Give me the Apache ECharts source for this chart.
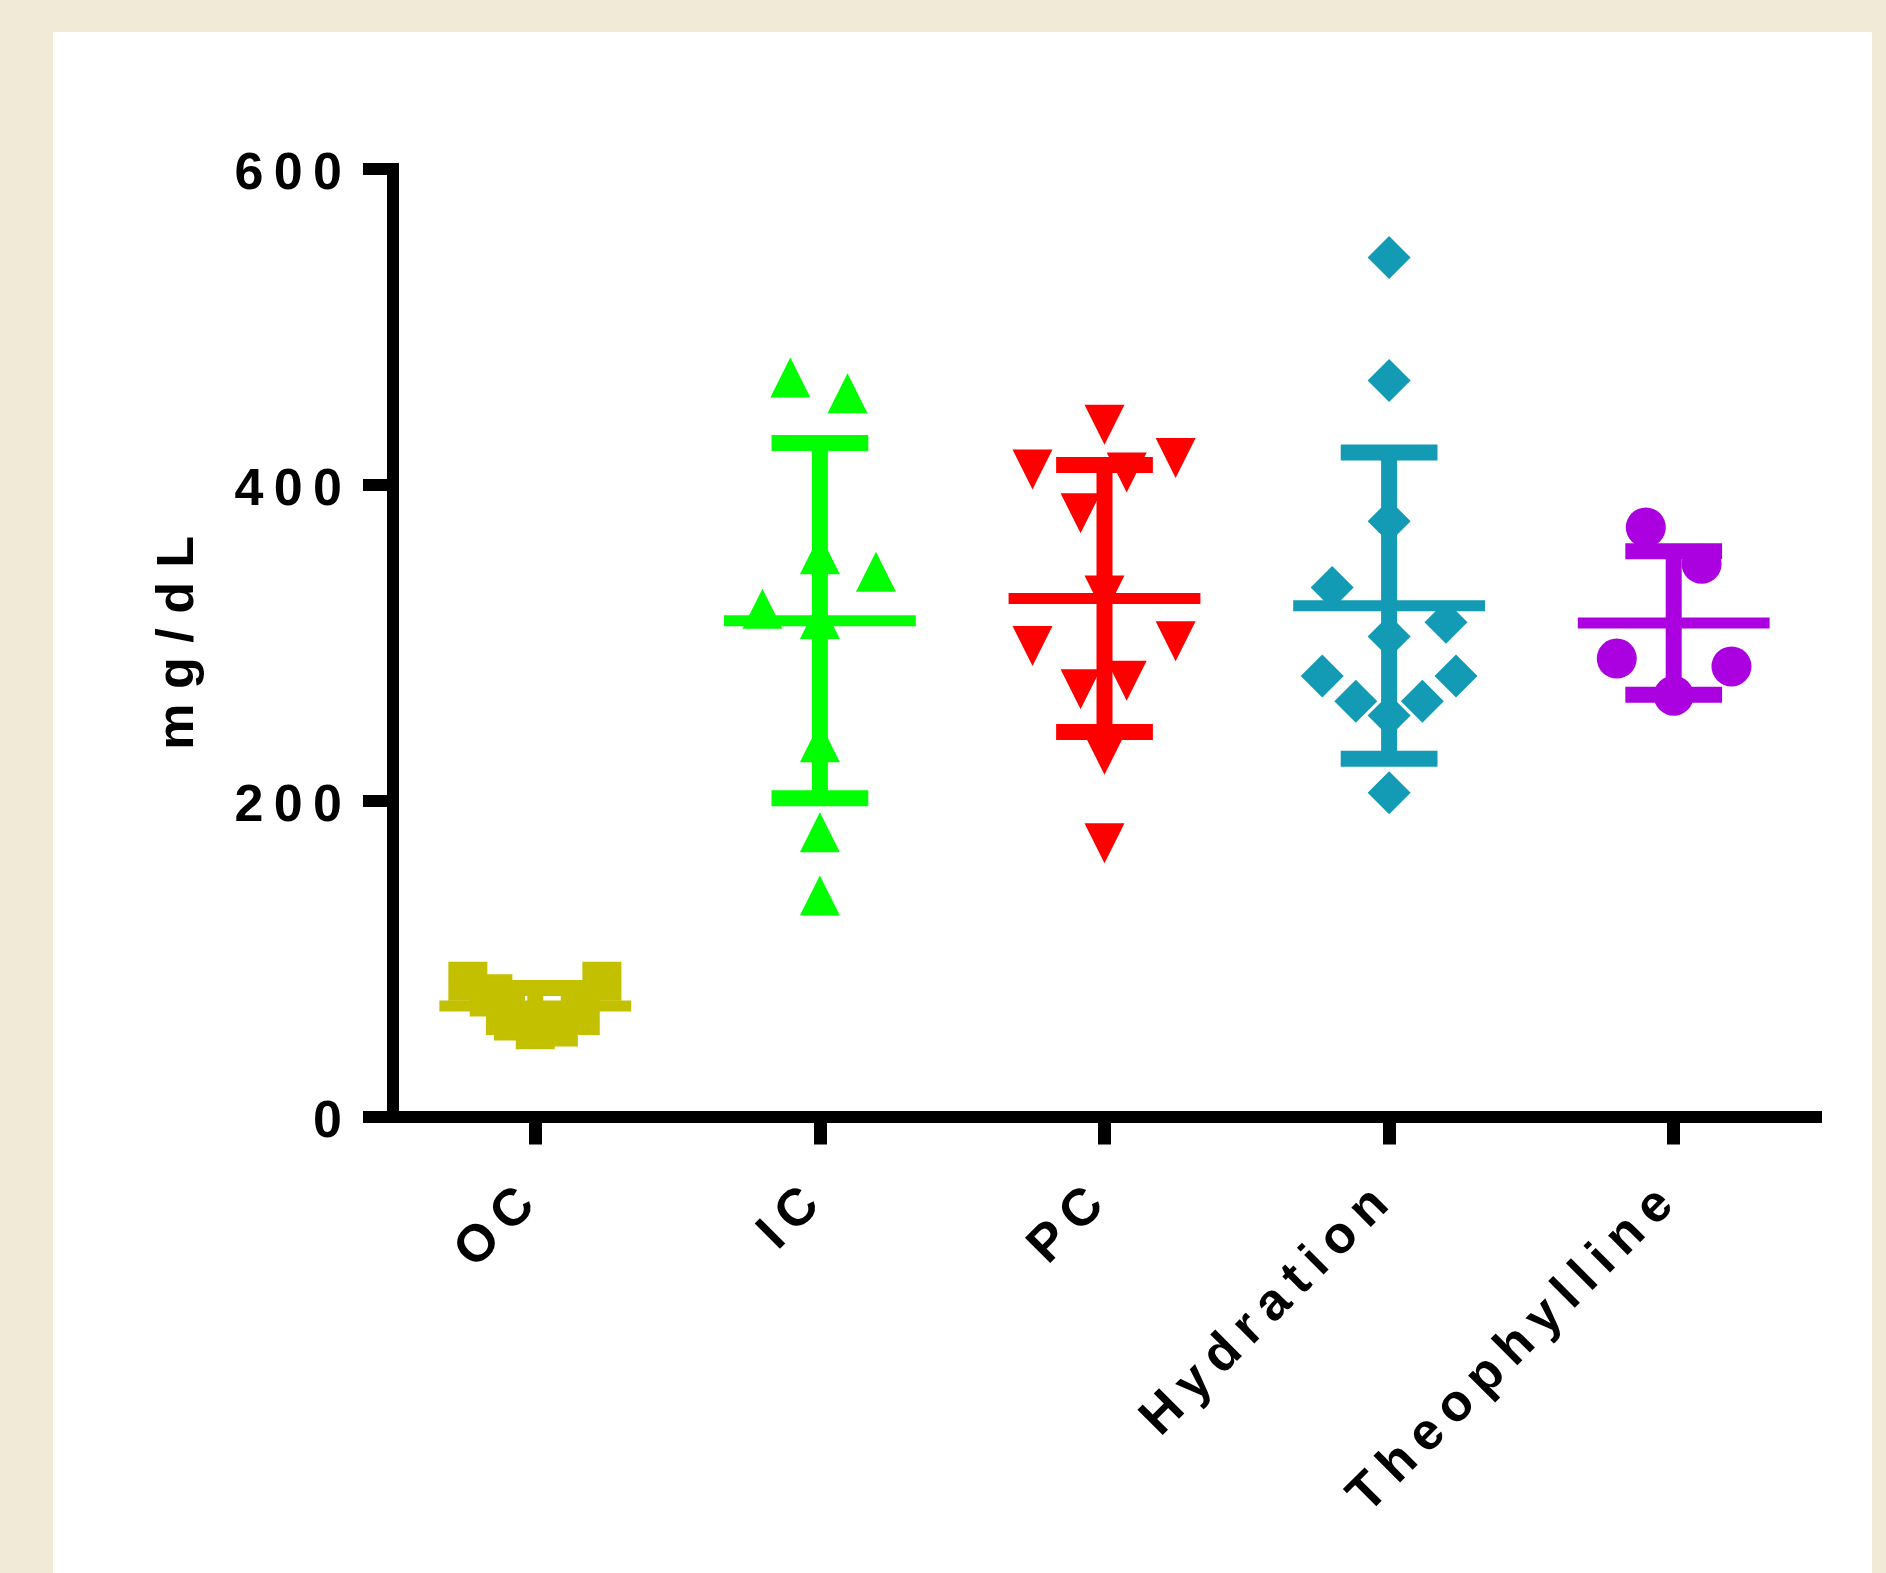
<!DOCTYPE html>
<html>
<head>
<meta charset="utf-8">
<script src="https://cdn.jsdelivr.net/npm/echarts@6/dist/echarts.min.js"></script>
<style>
  html, body { margin: 0; padding: 0; background: #F0EAD6; }
  #panel { position: absolute; left: 53px; top: 32px; width: 1819px; height: 1541px; background: #ffffff; }
  #chart { position: absolute; left: 0; top: 0; width: 1886px; height: 1573px; }
</style>
</head>
<body>
<div id="panel"></div>
<div id="chart"></div>
<script>
// ---- data ----
const categories = ['OC', 'IC', 'PC', 'Hydration', 'Theophylline'];
const yTicks = [0, 200, 400, 600];

const ocValues   = [85.6, 85.6, 77.8, 75.7, 64, 60.5, 55, 56.7, 64];
const icValues   = [468, 458, 356, 345, 321.5, 315, 237, 180, 140];
const pcValues   = [438, 409.7, 417, 407.8, 382, 330, 298, 301, 270.5, 276, 229, 173];
const hydValues  = [544, 466, 377, 335, 313, 304, 279, 279, 263, 263, 254, 205];
const theoValues = [373, 350, 290, 285, 266.5];

const means = [70, 314, 328, 323.5, 312.5];
const sds   = [11.4, 112.5, 84.5, 97, 45.5];

// horizontal scatter offsets (fraction of category band)
const ocJitter   = [-0.237, 0.234, -0.149, -0.162, -0.105, -0.077, 0, 0.081, 0.158];
const icJitter   = [-0.104, 0.097, 0, 0.197, -0.202, 0, 0, 0, 0];
const pcJitter   = [0, -0.253, 0.25, 0.078, -0.084, 0, -0.253, 0.25, -0.084, 0.078, 0, 0];
const hydJitter  = [0, 0, 0, -0.2, 0.2, 0, -0.235, 0.235, -0.117, 0.117, 0, 0];
const theoJitter = [-0.098, 0.098, -0.2, 0.203, 0];

// ---- styles ----
const colors = ['#C3C000', '#00FF00', '#FF0000', '#139AB5', '#AB00E0'];
const FONT = '"Liberation Sans", Arial, sans-serif';
const THIN = '\u2009';
const spacedThin = s => String(s).split('').join(THIN);
const spaced = s => String(s).split('').join(' ');

function pts(i, vals, jit) { return vals.map((v, j) => [i + jit[j], v]); }

const groups = [
  { vals: ocValues, jit: ocJitter, symbol: 'rect', size: 39, rot: 0 },
  { vals: icValues, jit: icJitter, symbol: 'triangle', size: [40, 40], rot: 0 },
  { vals: pcValues, jit: pcJitter, symbol: 'triangle', size: [40, 40], rot: 180 },
  { vals: hydValues, jit: hydJitter, symbol: 'diamond', size: 43, rot: 0 },
  { vals: theoValues, jit: theoJitter, symbol: 'circle', size: 40, rot: 0 }
];

const scatterSeries = groups.map((g, i) => ({
  type: 'scatter',
  xAxisIndex: 1,
  yAxisIndex: 0,
  symbol: g.symbol,
  symbolSize: g.size,
  symbolRotate: g.rot,
  itemStyle: { color: colors[i], opacity: 1 },
  emphasis: { disabled: true },
  silent: true,
  z: 2,
  data: pts(i, g.vals, g.jit)
}));

function renderBars(params, api) {
  const x = api.value(0), m = api.value(1), s = api.value(2);
  const c = api.coord([x, m]);
  const top = api.coord([x, m + s]);
  const bot = api.coord([x, m - s]);
  const band = api.size([1, 0])[0];
  const meanW = band * 0.674, capW = band * 0.34;
  const lw = 11, capT = 16, vW = 16;
  const fill = colors[params.dataIndex];
  return {
    type: 'group',
    children: [
      { type: 'rect', shape: { x: c[0] - vW / 2, y: top[1], width: vW, height: bot[1] - top[1] }, style: { fill } },
      { type: 'rect', shape: { x: c[0] - meanW / 2, y: c[1] - lw / 2, width: meanW, height: lw }, style: { fill } },
      { type: 'rect', shape: { x: c[0] - capW / 2, y: top[1] - capT / 2, width: capW, height: capT }, style: { fill } },
      { type: 'rect', shape: { x: c[0] - capW / 2, y: bot[1] - capT / 2, width: capW, height: capT }, style: { fill } }
    ]
  };
}

const labelText = { color: '#000', fontFamily: FONT, fontWeight: 'bold', fontSize: 52 };

const chart = echarts.init(document.getElementById('chart'), null, { renderer: 'canvas' });
chart.setOption({
  animation: false,
  backgroundColor: 'transparent',
  grid: { left: 393, right: 70, top: 169, bottom: 456.5, containLabel: false },
  xAxis: [
    {
      type: 'category',
      data: categories,
      boundaryGap: true,
      axisLine: { show: true, onZero: true, lineStyle: { color: '#000', width: 12, cap: 'square' } },
      axisTick: { show: true, alignWithLabel: true, length: 28, lineStyle: { color: '#000', width: 13 } },
      axisLabel: Object.assign({
        interval: 0, rotate: 45, margin: 72,
        padding: [0, 12, 0, 0],
        formatter: v => spacedThin(v)
      }, labelText),
      splitLine: { show: false }
    },
    { type: 'value', min: -0.5, max: 4.5, show: false }
  ],
  yAxis: {
    type: 'value',
    min: 0, max: 600, interval: 200,
    name: spaced('mg/dL'),
    nameLocation: 'middle',
    nameRotate: 90,
    nameGap: 188,
    nameTextStyle: labelText,
    axisLine: { show: true, onZero: false, lineStyle: { color: '#000', width: 12, cap: 'square' } },
    axisTick: { show: true, length: 30, lineStyle: { color: '#000', width: 12 } },
    axisLabel: Object.assign({
      margin: 51,
      formatter: v => (yTicks.indexOf(v) >= 0 ? '{pad|}\n{t|' + spacedThin(v) + '}' : ''),
      rich: {
        pad: { height: 12, lineHeight: 12, fontSize: 10 },
        t: Object.assign({ lineHeight: 60 }, labelText)
      }
    }, labelText),
    splitLine: { show: false }
  },
  series: scatterSeries.concat([{
    type: 'custom',
    xAxisIndex: 1,
    yAxisIndex: 0,
    renderItem: renderBars,
    silent: true,
    z: 3,
    data: means.map((m, i) => [i, m, sds[i]])
  }])
});
</script>
</body>
</html>
